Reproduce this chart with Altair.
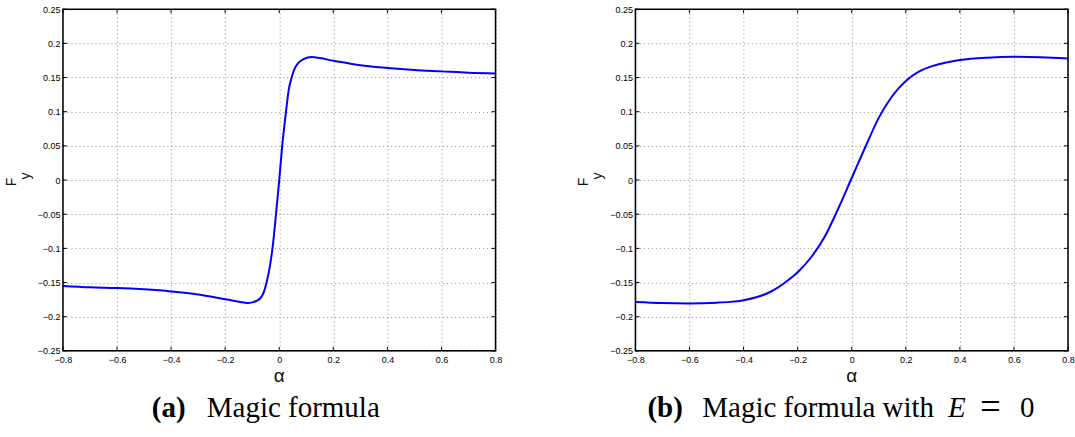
import altair as alt
import pandas as pd

# ---- data ----
alpha_a = [-0.8, -0.7, -0.6, -0.5, -0.4, -0.3, -0.25, -0.2, -0.16, -0.13, -0.115, -0.1, -0.085,
           -0.07, -0.059, -0.047, -0.035, -0.025, -0.012, 0.0, 0.011, 0.025, 0.035, 0.046, 0.057,
           0.07, 0.09, 0.12, 0.15, 0.2, 0.26, 0.3, 0.4, 0.5, 0.6, 0.7, 0.8]
fy_a = [-0.155, -0.157, -0.158, -0.160, -0.163, -0.1675, -0.1708, -0.1743, -0.1773, -0.1793, -0.180,
        -0.179, -0.177, -0.173, -0.166, -0.150, -0.127, -0.100, -0.050, 0.0, 0.050, 0.100, 0.132,
        0.150, 0.163, 0.171, 0.177, 0.180, 0.1785, 0.1745, 0.1705, 0.168, 0.164, 0.161, 0.159,
        0.157, 0.156]

alpha_b = [-0.8, -0.7, -0.6, -0.5, -0.45, -0.4, -0.35, -0.3, -0.25, -0.2, -0.15, -0.1, -0.05, 0.0,
           0.05, 0.1, 0.15, 0.2, 0.25, 0.3, 0.35, 0.4, 0.5, 0.6, 0.7, 0.8]
fy_b = [-0.1785, -0.180, -0.1805, -0.1795, -0.1783, -0.1758, -0.1712, -0.1635, -0.151, -0.135,
        -0.113, -0.083, -0.042, 0.003, 0.048, 0.091, 0.123, 0.145, 0.159, 0.167, 0.172, 0.1755,
        0.179, 0.1803, 0.1798, 0.178]

x_ticks = [-0.8, -0.6, -0.4, -0.2, 0.0, 0.2, 0.4, 0.6, 0.8]
y_ticks = [-0.25, -0.2, -0.15, -0.1, -0.05, 0.0, 0.05, 0.1, 0.15, 0.2, 0.25]

x_label = "α"
y_label_main = "F"
y_label_sub = "y"
# (text, weight, style, size, baseline shift)
caption_a = [("(a)", "bold", "normal", 29, 0), ("Magic formula", "normal", "normal", 29, 0)]
caption_b = [("(b)", "bold", "normal", 29, 0), ("Magic formula with", "normal", "normal", 29, 0),
             ("E", "normal", "italic", 29, 0), ("=", "normal", "normal", 37, 2),
             ("0", "normal", "normal", 29, 0)]
caption_a_x = [89, 144]
caption_b_x = [12, 67, 313, 345, 385]

W, H = 433, 342
SANS = "Liberation Sans"
SERIF = "Liberation Serif"
one = pd.DataFrame({"k": [0]})


def panel(alpha, fy, caption, caption_x, interp):
    df = pd.DataFrame({"alpha": alpha, "fy": fy})
    xs = alt.Scale(domain=[-0.8, 0.8], nice=False, zero=False)
    ys = alt.Scale(domain=[-0.25, 0.25], nice=False, zero=False)
    xaxis = alt.Axis(
        values=x_ticks, format=".1~f", grid=True, gridDash=[1, 3], gridColor="#8c8c8c",
        gridWidth=1, ticks=False, domain=False, title=None, labelFont=SANS, labelFontSize=9,
        labelColor="#000", labelPadding=5, labelFlush=False, labelOverlap=False, labelBound=False)
    yaxis = alt.Axis(
        values=y_ticks, format=".2~f", grid=True, gridDash=[1, 3], gridColor="#8c8c8c",
        gridWidth=1, ticks=False, domain=False, title=None, labelFont=SANS, labelFontSize=9,
        labelColor="#000", labelPadding=3, labelFlush=False, labelOverlap=False, labelBound=False)
    line = alt.Chart(df).mark_line(color="#0000ff", strokeWidth=2, interpolate=interp).encode(
        x=alt.X("alpha:Q", scale=xs, axis=xaxis),
        y=alt.Y("fy:Q", scale=ys, axis=yaxis),
    )
    xt = pd.DataFrame({"alpha": x_ticks})
    yt = pd.DataFrame({"fy": y_ticks})
    tick_x_bot = alt.Chart(xt).mark_rule(color="black", strokeWidth=1).encode(
        x=alt.X("alpha:Q", scale=xs, axis=xaxis), y=alt.value(H), y2=alt.value(H - 4))
    tick_x_top = alt.Chart(xt).mark_rule(color="black", strokeWidth=1).encode(
        x=alt.X("alpha:Q", scale=xs, axis=xaxis), y=alt.value(0), y2=alt.value(4))
    tick_y_l = alt.Chart(yt).mark_rule(color="black", strokeWidth=1).encode(
        y=alt.Y("fy:Q", scale=ys, axis=yaxis), x=alt.value(0), x2=alt.value(4))
    tick_y_r = alt.Chart(yt).mark_rule(color="black", strokeWidth=1).encode(
        y=alt.Y("fy:Q", scale=ys, axis=yaxis), x=alt.value(W), x2=alt.value(W - 4))
    frame = alt.Chart(one).mark_rect(filled=False, stroke="black", strokeWidth=1.5).encode(
        x=alt.value(0), x2=alt.value(W), y=alt.value(0), y2=alt.value(H))
    xl = alt.Chart(one).mark_text(text=x_label, font=SANS, fontSize=19, baseline="middle",
                                  align="center", color="#111").encode(
        x=alt.value(W / 2), y=alt.value(367))
    fl = alt.Chart(one).mark_text(text=y_label_main, font=SANS, fontSize=14, baseline="middle",
                                  align="center", angle=270, color="#111").encode(
        x=alt.value(-51), y=alt.value(173))
    sl = alt.Chart(one).mark_text(text=y_label_sub, font=SANS, fontSize=14, baseline="middle",
                                  align="center", angle=270, color="#111").encode(
        x=alt.value(-37), y=alt.value(167))
    caps = []
    for (txt, wt, st, fs, dy), cx in zip(caption, caption_x):
        caps.append(alt.Chart(one).mark_text(text=txt, font=SERIF, fontSize=fs, fontWeight=wt,
                                             fontStyle=st, align="left", baseline="alphabetic",
                                             color="black").encode(
            x=alt.value(cx), y=alt.value(408 + dy)))
    return alt.layer(line, tick_x_bot, tick_x_top, tick_y_l, tick_y_r, frame, xl, fl, sl,
                     *caps).properties(width=W, height=H)


left = panel(alpha_a, fy_a, caption_a, caption_a_x, "monotone")
right = panel(alpha_b, fy_b, caption_b, caption_b_x, "monotone")

chart = alt.hconcat(left, right, spacing=140, bounds="flush").properties(
    padding={"left": 4, "top": 4, "right": 0, "bottom": 0}
).configure_view(stroke=None).configure(background="white")

chart.save("out.html", embed_options={"renderer": "svg", "actions": False})
